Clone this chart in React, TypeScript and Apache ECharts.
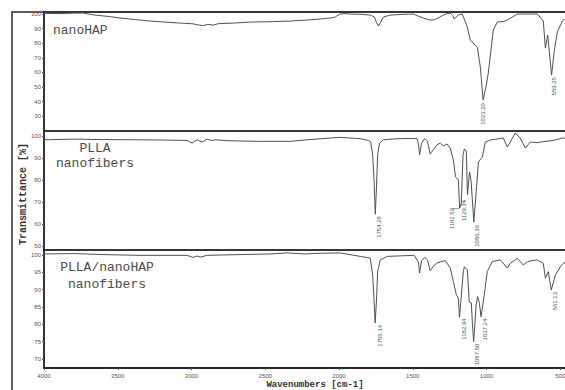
import React, { useEffect, useRef } from "react";
import * as echarts from "echarts";

const wavenumberTicks = [4000, 3500, 3000, 2500, 2000, 1500, 1000, 500];
const ticksPanel1 = [30, 40, 50, 60, 70, 80, 90, 100];
const ticksPanel2 = [50, 60, 70, 80, 90, 100];
const ticksPanel3 = [70, 75, 80, 85, 90, 95, 100];

const panelTitles = ["nanoHAP", "PLLA\nnanofibers", "PLLA/nanoHAP\nnanofibers"];

// [wavenumber cm-1, transmittance %]
const nanoHAP: [number, number][] = [
  [4000, 100.5], [3900, 100.3], [3800, 100.6], [3735, 100.7], [3700, 100.0], [3654, 99.3],
  [3550, 98.2], [3485, 97.3], [3380, 96.2], [3281, 95.2], [3180, 94.5], [3077, 93.8],
  [2990, 93.3], [2960, 92.6], [2921, 92.1], [2890, 92.9], [2874, 92.8], [2850, 92.4],
  [2820, 93.4], [2700, 93.9], [2603, 94.5], [2450, 94.8], [2331, 95.2], [2200, 96.0],
  [2128, 96.6], [2050, 97.4], [2026, 97.9], [1995, 100.0], [1960, 100.3], [1924, 100.0],
  [1850, 99.8], [1788, 99.3], [1760, 98.0], [1745, 94.0], [1734, 91.8], [1722, 93.5],
  [1700, 97.9], [1653, 99.3], [1560, 99.8], [1497, 100.0], [1460, 98.5], [1429, 97.3],
  [1390, 96.0], [1361, 95.9], [1327, 97.3], [1280, 100.0], [1246, 100.7], [1230, 99.0],
  [1219, 96.6], [1191, 99.3], [1164, 100.0], [1130, 91.1], [1110, 82.2], [1075, 78.5],
  [1062, 77.4], [1042, 63.7], [1023, 41.1], [1000, 52.0], [988, 59.6], [954, 89.0],
  [927, 94.5], [880, 95.0], [859, 95.9], [791, 100.0], [700, 100.0], [655, 100.0],
  [615, 95.2], [601, 76.7], [585, 85.6], [559, 58.2], [540, 75.0], [520, 87.7],
  [486, 95.2], [465, 97.0],
];

const plla: [number, number][] = [
  [4000, 98.3], [3803, 98.6], [3600, 98.4], [3349, 98.3], [3200, 98.2], [3030, 98.0],
  [2996, 96.8], [2962, 98.3], [2928, 97.3], [2894, 98.6], [2860, 97.9], [2840, 98.3],
  [2758, 97.9], [2555, 97.6], [2331, 97.6], [2216, 98.3], [2060, 99.1], [1992, 99.4],
  [1900, 99.0], [1856, 98.8], [1800, 98.0], [1785, 97.3], [1772, 91.5], [1762, 79.5],
  [1754, 64.5], [1746, 76.4], [1738, 91.5], [1725, 96.8], [1700, 98.3], [1600, 98.8],
  [1500, 98.9], [1471, 98.8], [1460, 95.9], [1454, 91.4], [1440, 96.8], [1420, 98.8],
  [1400, 97.7], [1382, 91.8], [1361, 93.8], [1336, 96.0], [1313, 96.8], [1293, 95.5],
  [1268, 96.4], [1246, 94.5], [1225, 89.2], [1210, 81.5], [1191, 80.1], [1182, 67.3],
  [1171, 69.5], [1159, 91.5], [1150, 94.2], [1137, 93.2], [1129, 73.3], [1115, 83.6],
  [1105, 80.0], [1086, 60.9], [1070, 74.5], [1055, 88.2], [1040, 89.5], [1028, 90.5],
  [1008, 97.3], [974, 98.2], [886, 99.1], [859, 95.0], [839, 97.3], [805, 101.4],
  [771, 99.1], [737, 94.5], [703, 97.3], [650, 97.0], [635, 97.3], [547, 98.0],
  [486, 99.1], [465, 99.0],
];

const pllaNanoHAP: [number, number][] = [
  [4000, 100.3], [3803, 100.4], [3580, 100.1], [3349, 99.9], [3030, 99.9], [2990, 99.3],
  [2962, 99.7], [2940, 99.4], [2894, 99.9], [2690, 100.1], [2467, 100.3], [2352, 100.6],
  [2236, 100.3], [2127, 100.5], [1992, 100.6], [1856, 99.6], [1788, 99.1], [1772, 94.3],
  [1762, 86.7], [1755, 80.4], [1746, 86.7], [1738, 95.4], [1720, 98.6], [1673, 99.6],
  [1490, 99.9], [1460, 97.7], [1454, 94.8], [1440, 98.3], [1420, 99.3], [1400, 98.6],
  [1382, 95.5], [1361, 96.7], [1336, 97.7], [1313, 98.0], [1280, 98.4], [1246, 96.3],
  [1225, 92.4], [1205, 88.6], [1191, 87.6], [1183, 82.0], [1157, 95.2], [1150, 96.6],
  [1130, 95.7], [1117, 86.5], [1103, 86.2], [1095, 79.8], [1087, 75.0], [1070, 85.6],
  [1060, 88.0], [1048, 86.1], [1037, 82.2], [1015, 88.5], [995, 95.2], [961, 98.1],
  [906, 98.6], [859, 96.2], [839, 97.6], [791, 99.0], [750, 97.1], [723, 98.1],
  [655, 98.6], [615, 97.6], [601, 93.3], [581, 95.2], [561, 89.9], [533, 94.2],
  [499, 96.6], [479, 97.6], [465, 97.8],
];

// peak annotations: [wavenumber, transmittance, label]
const peaksPanel1: [number, number, string][] = [
  [1023, 41.1, "1023.20"],
  [559, 58.2, "559.25"],
];
const peaksPanel2: [number, number, string][] = [
  [1754, 64.5, "1754.28"],
  [1182, 67.3, "1182.52"],
  [1129, 73.3, "1129.14"],
  [1086, 60.9, "1086.39"],
];
const peaksPanel3: [number, number, string][] = [
  [1755, 80.4, "1755.14"],
  [1183, 82.0, "1182.94"],
  [1087, 75.0, "1087.50"],
  [1037, 82.2, "1037.24"],
  [561, 89.9, "561.13"],
];

// leader lines in the PLLA panel: [[w1, t1], [w2, t2]]
const leadersPanel2: [[number, number], [number, number]][] = [
  [[1182, 67.3], [1240, 67.3]],
  [[1182, 67.3], [1144, 70.9]],
];

const LINE = "#505050";
const FRAME = "#2a2a2a";
const TICKC = "#555";
const MONO = "'Liberation Mono', 'DejaVu Sans Mono', monospace";
const SANS = "Arial, 'Liberation Sans', sans-serif";

// screen offsets (dx, dy) of the top of each rotated label from its point
const labelShift: Record<string, [number, number]> = {
  "1023.20": [0, 3],
  "559.25": [2, 2],
  "1754.28": [4, 2],
  "1182.52": [-8, 0],
  "1129.14": [-3, 5],
  "1086.39": [3.5, 3],
  "1755.14": [5, 2],
  "1182.94": [4.5, 1],
  "1087.50": [3.5, 2],
  "1037.24": [4, 2],
  "561.13": [4, 2],
};

function markPoints(peaks: [number, number, string][]) {
  return {
    symbol: "circle",
    symbolSize: 0,
    silent: true,
    data: peaks.map(([w, t, s]) => {
      const [dx, dy] = labelShift[s] || [2, 2];
      return {
        coord: [w, t],
        value: s,
        label: {
          show: true,
          formatter: s,
          position: [0, 0],
          // offset is applied in the rotated frame
          offset: [-dy, dx],
          rotate: 90,
          align: "right",
          verticalAlign: "middle",
          fontSize: 6,
          color: "#555",
          fontFamily: SANS,
        },
      };
    }),
  };
}

export default function App() {
  const ref = useRef<HTMLDivElement>(null);

  useEffect(() => {
    if (!ref.current) return;
    const chart = echarts.init(ref.current, null, { renderer: "svg" });

    const grids = [
      { top: 12, height: 119 },
      { top: 131, height: 119 },
      { top: 250, height: 118 },
    ].map((g) => ({
      ...g,
      left: 44,
      width: 531,
      outerBoundsMode: "none",
      containLabel: false,
      show: true,
      borderColor: FRAME,
      borderWidth: 1.5,
      backgroundColor: "transparent",
    }));

    const yRanges: [number, number, number[]][] = [
      [19.9, 101.4, ticksPanel1],
      [48.2, 102.3, ticksPanel2],
      [67.4, 101.44, ticksPanel3],
    ];

    const xAxes = [0, 1, 2].map((i) => ({
      type: "value",
      gridIndex: i,
      min: 400,
      max: 4000,
      inverse: true,
      splitLine: { show: false },
      axisLine: { show: i === 2, lineStyle: { color: FRAME, width: 2 } },
      axisTick: {
        show: i === 2,
        customValues: wavenumberTicks,
        length: 2,
        lineStyle: { color: TICKC },
      },
      axisLabel: {
        show: i === 2,
        customValues: wavenumberTicks,
        formatter: (v: number) => String(v),
        fontSize: 6,
        color: "#555",
        margin: 5,
        fontFamily: SANS,
      },
    }));

    const yAxes = yRanges.map(([mn, mx, ticks], i) => ({
      type: "value",
      gridIndex: i,
      min: mn,
      max: mx,
      splitLine: { show: false },
      axisLine: { show: true, onZero: false, lineStyle: { color: FRAME, width: 1.5 } },
      axisTick: {
        show: true,
        customValues: ticks,
        length: 2,
        lineStyle: { color: TICKC },
      },
      axisLabel: {
        show: true,
        customValues: ticks,
        formatter: (v: number) => String(v),
        fontSize: 6,
        color: "#555",
        margin: 3,
        fontFamily: SANS,
      },
    }));

    const datasets = [nanoHAP, plla, pllaNanoHAP];
    const peakSets = [peaksPanel1, peaksPanel2, peaksPanel3];

    const series = datasets.map((d, i) => ({
      type: "line",
      xAxisIndex: i,
      yAxisIndex: i,
      data: d,
      showSymbol: false,
      symbol: "none",
      smooth: false,
      lineStyle: { color: LINE, width: 1 },
      markPoint: markPoints(peakSets[i]),
      markLine:
        i === 1
          ? {
              silent: true,
              symbol: "none",
              label: { show: false },
              lineStyle: { color: "#666", width: 0.6, type: "solid" },
              data: leadersPanel2.map(([a, b]) => [{ coord: a }, { coord: b }]),
            }
          : undefined,
    }));

    const titles: { x: number; y: number; align: string; lh: number }[] = [
      { x: 53, y: 22, align: "left", lh: 16 },
      { x: 95, y: 141, align: "center", lh: 15 },
      { x: 107, y: 259, align: "center", lh: 17 },
    ];

    chart.setOption({
      animation: false,
      backgroundColor: "#fff",
      grid: grids,
      xAxis: xAxes,
      yAxis: yAxes,
      series,
      graphic: [
        {
          type: "rect",
          shape: { x: 12, y: 12, width: 620, height: 420 },
          style: { fill: "none", stroke: FRAME, lineWidth: 1.5 },
          silent: true,
        },
        ...panelTitles.map((t, i) => ({
          type: "text",
          x: titles[i].x,
          y: titles[i].y,
          style: {
            text: t,
            fontSize: 13,
            lineHeight: titles[i].lh,
            fontFamily: MONO,
            fill: "#4a4a4a",
            align: titles[i].align,
          },
          silent: true,
        })),
        {
          type: "text",
          x: 23,
          y: 194,
          rotation: Math.PI / 2,
          style: {
            text: "Transmittance [%]",
            fontSize: 10,
            fontWeight: "bold",
            fontFamily: MONO,
            fill: "#333",
            align: "center",
            verticalAlign: "middle",
          },
          silent: true,
        },
        {
          type: "text",
          x: 315,
          y: 385,
          style: {
            text: "Wavenumbers [cm-1]",
            fontSize: 9,
            fontWeight: "bold",
            fontFamily: MONO,
            fill: "#333",
            align: "center",
            verticalAlign: "middle",
          },
          silent: true,
        },
      ],
    });

    return () => chart.dispose();
  }, []);

  return (
    <div
      ref={ref}
      style={{ position: "absolute", left: 0, top: 0, width: 565, height: 390 }}
    />
  );
}
